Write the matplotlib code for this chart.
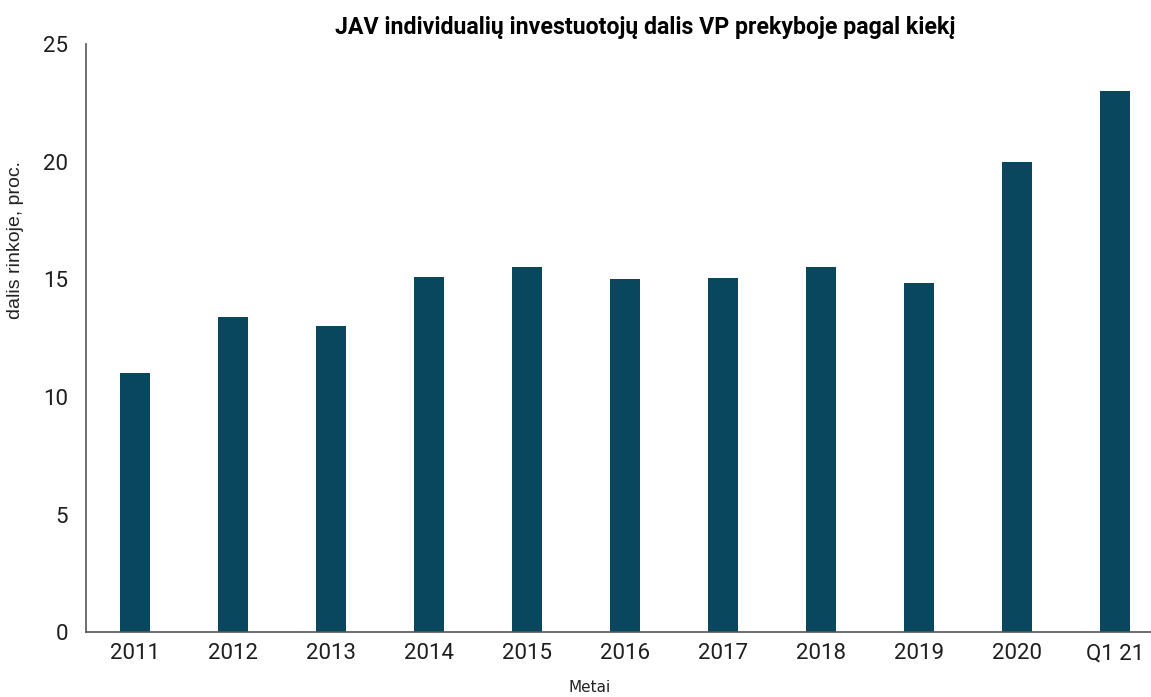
import matplotlib.pyplot as plt

# JAV individualių investuotojų dalis VP prekyboje, proc.
metai = ['2011', '2012', '2013', '2014', '2015', '2016', '2017', '2018', '2019', '2020', 'Q1 21']
dalis = [11.0, 13.4, 13.0, 15.1, 15.5, 15.0, 15.05, 15.5, 14.85, 20.0, 23.0]

spalva = '#08475e'

fig = plt.figure(figsize=(11.51, 6.97), dpi=100)
ax = fig.add_axes([0.0747, 0.093, 0.9253, 0.844])

x = range(len(metai))
ax.bar(x, dalis, width=0.31, color=spalva)

ax.set_xlim(-0.5, 10.37)
ax.set_ylim(0, 25)
ax.set_yticks([0, 5, 10, 15, 20, 25])
ax.set_xticks(list(x))
ax.set_xticklabels(metai)

ax.tick_params(axis='both', length=0, labelcolor='#1e1e1e')
ax.tick_params(axis='y', pad=13)
ax.tick_params(axis='x', pad=8)
for lbl in ax.get_xticklabels() + ax.get_yticklabels():
    lbl.set_family('Roboto')
    lbl.set_fontsize(16)

for s in ['top', 'right']:
    ax.spines[s].set_visible(False)
for s in ['left', 'bottom']:
    ax.spines[s].set_color('#555555')
    ax.spines[s].set_linewidth(1.2)

ax.set_ylabel('dalis rinkoje, proc.', fontsize=14, family='Liberation Sans', color='#222222')
ax.yaxis.set_label_coords(-0.058, 0.667)
fig.text(0.5125, 0.014, 'Metai', fontsize=11, color='#222222', ha='center', va='center')
fig.text(0.561, 0.96, 'JAV individualių investuotojų dalis VP prekyboje pagal kiekį',
         fontsize=16.7, fontweight='bold', family='Roboto', ha='center', va='center')

fig.savefig('out.png', dpi=100)
